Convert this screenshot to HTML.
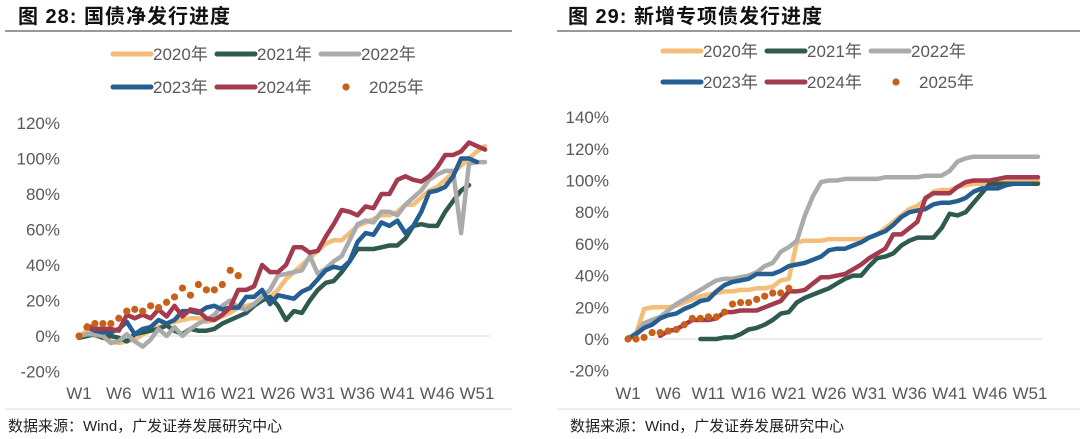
<!DOCTYPE html>
<html><head><meta charset="utf-8">
<style>
body{margin:0;width:1080px;height:439px;background:#fff;overflow:hidden;font-family:"Liberation Sans","Noto Sans CJK SC",sans-serif;}
svg{position:absolute;left:0;top:0}
</style></head>
<body>
<svg id="svg" width="1080" height="439" xmlns="http://www.w3.org/2000/svg">
<text x="18" y="23" font-size="20" font-weight="bold" fill="#111" letter-spacing="1" font-family="Liberation Sans, Noto Sans CJK SC, sans-serif">图 28:  国债净发行进度</text>
<line x1="5" y1="31" x2="512" y2="31" stroke="#333" stroke-width="1"/>
<text x="568" y="23" font-size="20" font-weight="bold" fill="#111" letter-spacing="1" font-family="Liberation Sans, Noto Sans CJK SC, sans-serif">图 29:  新增专项债发行进度</text>
<line x1="557" y1="31" x2="1080" y2="31" stroke="#333" stroke-width="1"/>
<line x1="5" y1="409" x2="512" y2="409" stroke="#ddd" stroke-width="1"/>
<line x1="557" y1="409" x2="1080" y2="409" stroke="#ddd" stroke-width="1"/>
<text x="8" y="431" font-size="15" fill="#222">数据来源：Wind，广发证券发展研究中心</text>
<text x="570" y="431" font-size="15" fill="#222">数据来源：Wind，广发证券发展研究中心</text>
</svg>
<script>
// ---- Left chart data (国债净发行进度, %) ----
const weeksL = ["W1","W6","W11","W16","W21","W26","W31","W36","W41","W46","W51"];
const yTicksL = [-20,0,20,40,60,80,100,120];
const L2020 = [0,3,0,-1,-3,-4,-3,-2,1,3,5,7,8,9,10,10,8,9,11,13,16,17,18,20,22,26,32,36,40,44,48,52,54,54,58,62,64,66,68,68,70,74,74,78,82,84,88,92,96,100,104,107];
const L2021 = [-1,0,1,-1,0,-1,-3,1,2,3,4,6,3,1,4,3,3,4,7,9,11,13,17,20,22,17,9,14,13,20,26,30,31,36,42,49,49,49,50,51,51,55,62,63,62,62,70,76,82,85];
const L2022 = [0,1,1,0,-4,-3,1,-3,-6,-2,4,0,5,0,4,7,9,12,17,20,16,15,18,22,26,34,35,36,37,45,35,38,42,45,54,63,65,64,70,70,68,74,78,82,88,91,93,93,58,97,98,98];
const L2023 = [null,5,3,2,2,4,8,1,4,5,9,7,9,14,14,13,16,17,15,16,16,22,22,26,18,23,22,21,25,27,32,37,39,38,42,53,58,57,64,62,65,58,62,70,81,82,84,90,100,100,98];
const L2024 = [null,6,4,4,4,3,12,10,12,10,15,11,17,11,15,14,10,9,12,16,26,26,28,40,36,36,40,50,50,47,48,56,63,71,70,68,73,72,80,80,88,90,88,87,90,95,102,102,104,109,107,105];
const L2025 = [0,5,7,7,7,10,14,15,14,17,16,19,22,27,23,29,26,26,29,37,34];
// ---- Right chart data (新增专项债发行进度, %) ----
const weeksR = ["W1","W6","W11","W16","W21","W26","W31","W36","W41","W46","W51"];
const yTicksR = [-20,0,20,40,60,80,100,120,140];
const R2020 = [1,3,19,20,20,20,21,23,25,27,28,29,30,30,31,31,32,32,33,37,38,61,62,62,62,63,63,63,63,63,64,66,70,74,78,82,84,88,93,94,94,96,97,98,98,98,99,99,100,100,100,100];
const R2021 = [null,null,null,null,null,null,null,null,null,0,0,0,1,1,3,6,7,9,12,16,17,23,26,28,30,32,35,38,40,40,46,51,52,54,59,62,64,64,64,70,79,78,80,86,92,98,98,98,98,98,98,98];
const R2022 = [0,4,10,12,14,18,22,25,28,31,34,37,38,38,39,40,42,46,48,55,58,62,78,90,99,100,100,101,101,101,101,101,102,102,102,102,102,103,103,103,106,112,114,115,115,115,115,115,115,115,115,115];
const R2023 = [0,3,7,9,13,15,16,19,21,24,25,30,34,36,37,38,41,41,41,43,46,47,48,50,52,56,57,57,59,61,64,66,68,72,77,80,81,82,85,86,86,87,89,93,95,95,95,97,98,98,98];
const R2024 = [null,null,null,null,2,5,6,9,12,12,12,13,17,17,18,18,18,20,22,24,30,30,31,35,39,39,40,41,44,47,51,54,57,66,66,70,74,89,92,92,92,96,99,100,100,100,101,102,102,102,102,102];
const R2025 = [0,0,1,4,4,5,6,9,13,13,14,14,17,22,23,23,25,27,29,29,32];

const NS="http://www.w3.org/2000/svg";
const svg=document.getElementById('svg');
function mk(tag,attrs){const e=document.createElementNS(NS,tag);for(const k in attrs)e.setAttribute(k,attrs[k]);svg.appendChild(e);return e;}
const colors={c2020:"#F4BE78",c2021:"#2F5A50",c2022:"#ABABAB",c2023:"#255E91",c2024:"#A33A4D",c2025:"#C8601A"};

function drawChart(cfg){
  const xs=w=>cfg.x0+(w-1)*cfg.dx;
  const ys=v=>cfg.y0-v*cfg.dy;
  cfg.yTicks.forEach(t=>{
    const tx=mk('text',{x:cfg.labelX,y:ys(t)+6,'font-size':17,fill:'#595959','text-anchor':'end'});
    tx.textContent=t+'%';
    
    
  });
  const zl=mk('line',{x1:cfg.x0,y1:ys(0),x2:cfg.xEnd,y2:ys(0),stroke:'#d9d9d9','stroke-width':1});
  
  
  cfg.weeks.forEach((w,i)=>{
    const tx=mk('text',{x:xs(1+i*5),y:cfg.xLabelY,'font-size':17,fill:'#595959','text-anchor':'middle'});
    tx.textContent=w;
    
    
  });
  cfg.series.forEach(s=>{
    let d='';let pen=false;
    s.data.forEach((v,i)=>{ if(v===null){pen=false;return;} d+=(pen?'L':'M')+xs(i+1).toFixed(1)+','+ys(v).toFixed(1);pen=true;});
    const p=mk('path',{d:d,fill:'none',stroke:s.color,'stroke-width':4.5,'stroke-linejoin':'round','stroke-linecap':'round'});
    
    
  });
  cfg.dots.forEach((v,i)=>{
    const c=mk('circle',{cx:xs(i+1),cy:ys(v),r:3.6,fill:colors.c2025});
    
    
  });
  const lg=cfg.legend;
  const items=[["2020",colors.c2020],["2021",colors.c2021],["2022",colors.c2022],["2023",colors.c2023],["2024",colors.c2024],["2025",colors.c2025]];
  items.forEach((it,i)=>{
    const col=i%3,row=Math.floor(i/3);
    const lx=lg.x+col*lg.step, ly=lg.y+row*lg.rowH;
    if(it[0]==="2025"){
      const c=mk('circle',{cx:lx+27,cy:ly,r:3.6,fill:it[1]});
      
      
    }else{
      const l=mk('line',{x1:lx+2,y1:ly,x2:lx+40,y2:ly,stroke:it[1],'stroke-width':5,'stroke-linecap':'round'});
      
      
    }
    const t=mk('text',{x:it[0]==="2025"?lx+50:lx+42,y:ly+6,'font-size':17,fill:'#595959'});
    t.textContent=it[0]+'年';
    
    
  });
}
drawChart({p:'left',x0:79,dx:7.96,y0:336,dy:35.5/20,xEnd:490,labelX:60,xLabelY:399,
  yTicks:yTicksL,weeks:weeksL,dots:L2025,legend:{x:111,y:54,step:104,rowH:33},
  series:[{name:'2020',color:colors.c2020,data:L2020},{name:'2021',color:colors.c2021,data:L2021},{name:'2022',color:colors.c2022,data:L2022},{name:'2023',color:colors.c2023,data:L2023},{name:'2024',color:colors.c2024,data:L2024}]});
drawChart({p:'right',x0:628,dx:8.04,y0:339,dy:31.7/20,xEnd:1042,labelX:609,xLabelY:399,
  yTicks:yTicksR,weeks:weeksR,dots:R2025,legend:{x:661,y:51,step:104,rowH:31},
  series:[{name:'2020',color:colors.c2020,data:R2020},{name:'2021',color:colors.c2021,data:R2021},{name:'2022',color:colors.c2022,data:R2022},{name:'2023',color:colors.c2023,data:R2023},{name:'2024',color:colors.c2024,data:R2024}]});
</script>
</body></html>
